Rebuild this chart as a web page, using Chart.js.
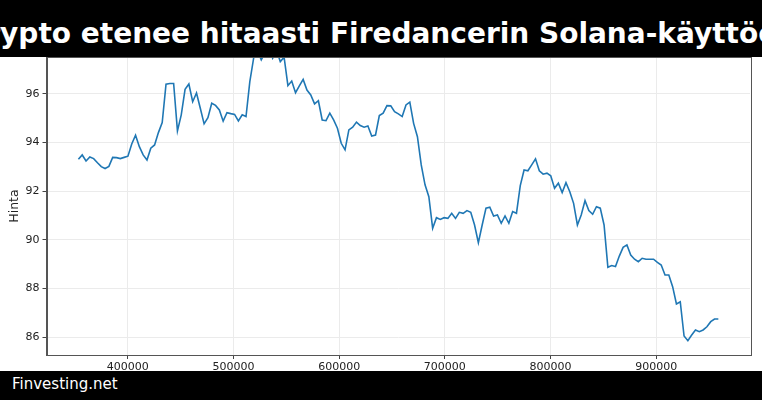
<!DOCTYPE html>
<html>
<head>
    <meta charset="utf-8">
    <title>Krypto etenee hitaasti Firedancerin Solana-käyttöön</title>
    <script src="https://cdn.jsdelivr.net/npm/chart.js"></script>
    <style>
        html, body {
            margin: 0;
            padding: 0;
            background: #ffffff;
            overflow: hidden;
        }

        .page {
            position: relative;
            width: 762px;
            height: 400px;
        }

        .top-bar {
            position: absolute;
            left: 0;
            top: 0;
            width: 762px;
            height: 57px;
            background: #000;
            display: flex;
            justify-content: center;
            overflow: hidden;
            z-index: 2;
        }

        .top-bar span {
            flex: none;
            white-space: nowrap;
            color: #fff;
            font-family: 'DejaVu Sans', sans-serif;
            font-weight: bold;
            font-size: 28px;
            line-height: 33px;
            padding-top: 17px;
        }

        .bottom-bar {
            position: absolute;
            left: 0;
            top: 371px;
            width: 762px;
            height: 29px;
            background: #000;
            z-index: 2;
        }

        .bottom-bar span {
            position: absolute;
            left: 12px;
            top: 4px;
            color: #fff;
            font-family: 'DejaVu Sans', sans-serif;
            font-size: 15px;
            line-height: 18px;
        }

        canvas {
            position: absolute;
            left: 0;
            top: 0;
        }
    </style>
</head>
<body>
<div class="page">
    <div class="top-bar"><span>Krypto etenee hitaasti Firedancerin Solana-käyttöön</span></div>
    <canvas id="priceChart" width="762" height="400"></canvas>
    <div class="bottom-bar"><span>Finvesting.net</span></div>
</div>

<script>
    // sampling of the x axis (values are evenly spaced in the source)
    const xStart = 353200;
    const xStep = 3605;

    // price series
    const prices = [
        93.31, 93.49, 93.24, 93.41, 93.34, 93.17, 93.01, 92.93, 93.02, 93.39,
        93.38, 93.34, 93.39, 93.44, 93.94, 94.30, 93.83, 93.49, 93.28, 93.77,
        93.90, 94.41, 94.82, 96.40, 96.43, 96.43, 94.48, 95.14, 96.19, 96.41,
        95.68, 96.04, 95.41, 94.77, 95.02, 95.62, 95.53, 95.34, 94.88, 95.23,
        95.19, 95.16, 94.89, 95.14, 95.07, 96.51, 97.47, 97.80, 97.40, 97.70,
        97.90, 97.47, 97.80, 97.33, 97.51, 96.34, 96.53, 96.05, 96.33, 96.60,
        96.16, 95.96, 95.59, 95.72, 94.93, 94.90, 95.21, 94.93, 94.59, 93.97,
        93.70, 94.52, 94.63, 94.84, 94.70, 94.63, 94.68, 94.27, 94.31, 95.11,
        95.21, 95.52, 95.51, 95.27, 95.18, 95.07, 95.55, 95.66, 94.79, 94.24,
        93.08, 92.26, 91.77, 90.47, 90.91, 90.84, 90.91, 90.88, 91.09, 90.88,
        91.13, 91.09, 91.20, 91.13, 90.61, 89.88, 90.61, 91.30, 91.34, 90.98,
        91.02, 90.68, 90.98, 90.68, 91.16, 91.09, 92.23, 92.87, 92.84, 93.08,
        93.33, 92.84, 92.70, 92.74, 92.63, 92.12, 92.33, 91.94, 92.35, 91.98,
        91.50, 90.61, 91.02, 91.61, 91.20, 91.05, 91.36, 91.30, 90.61, 88.87,
        88.94, 88.90, 89.33, 89.69, 89.79, 89.37, 89.20, 89.10, 89.24, 89.20,
        89.20, 89.20, 89.07, 88.96, 88.55, 88.55, 88.07, 87.36, 87.45, 86.04,
        85.85, 86.08, 86.29, 86.22, 86.29, 86.42, 86.63, 86.74, 86.74
    ];

    const yTicks = [86, 88, 90, 92, 94, 96];
    const xTicks = [400000, 500000, 600000, 700000, 800000, 900000];

    const points = prices.map((p, i) => ({ x: xStart + i * xStep, y: p }));

    // top and right spines, like a boxed axes
    const frame = {
        id: 'frame',
        afterDraw(chart) {
            const a = chart.chartArea;
            const ctx = chart.ctx;
            ctx.save();
            ctx.strokeStyle = '#555';
            ctx.lineWidth = 1;
            ctx.strokeRect(Math.round(a.left) + 0.5, Math.round(a.top) + 0.5,
                Math.round(a.right - a.left), Math.round(a.bottom - a.top));
            ctx.restore();
        }
    };

    const tickFont = { family: 'DejaVu Sans', size: 11 };

    new Chart(document.getElementById('priceChart').getContext('2d'), {
        type: 'line',
        data: {
            datasets: [{
                label: 'Hinta',
                data: points,
                borderColor: '#1f77b4',
                borderWidth: 1.6,
                pointRadius: 0,
                tension: 0,
                fill: false
            }]
        },
        options: {
            responsive: false,
            animation: false,
            events: [],
            layout: { padding: { left: 0, right: 12, top: 57, bottom: 0 } },
            plugins: {
                legend: { display: false },
                tooltip: { enabled: false }
            },
            scales: {
                x: {
                    type: 'linear',
                    min: 323000,
                    max: 988800,
                    afterBuildTicks: s => { s.ticks = xTicks.map(v => ({ value: v })); },
                    afterFit: s => { s.height = 45; },
                    ticks: {
                        font: tickFont,
                        color: '#222',
                        padding: 2,
                        maxRotation: 0,
                        callback: v => String(v)
                    },
                    grid: { color: '#ebebeb', tickColor: '#444', tickLength: 4 },
                    border: { color: '#555' }
                },
                y: {
                    min: 85.26,
                    max: 97.52,
                    afterBuildTicks: s => { s.ticks = yTicks.map(v => ({ value: v })); },
                    afterFit: s => { s.width = 46.5; },
                    ticks: {
                        font: tickFont,
                        color: '#222',
                        padding: 3,
                        callback: v => String(v)
                    },
                    title: {
                        display: true,
                        text: 'Hinta',
                        font: { family: 'DejaVu Sans', size: 12.5 },
                        color: '#222',
                        padding: { top: 7, bottom: 0 }
                    },
                    grid: { color: '#ebebeb', tickColor: '#444', tickLength: 4 },
                    border: { color: '#555' }
                }
            }
        },
        plugins: [frame]
    });
</script>
</body>
</html>
